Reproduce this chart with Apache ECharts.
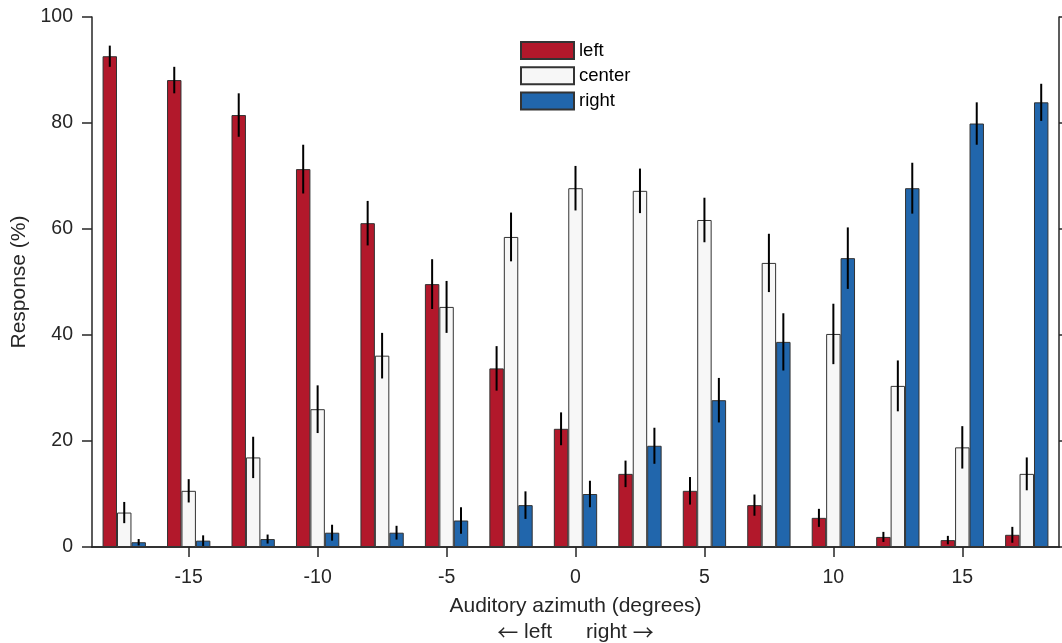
<!DOCTYPE html>
<html><head><meta charset="utf-8">
<script src="https://cdn.jsdelivr.net/npm/echarts@6/dist/echarts.min.js"></script>
<style>html,body{margin:0;padding:0;background:#fff}#c{width:1062px;height:643px}</style>
</head><body><div id="c"></div>
<script>
const categories = ['-17.5','-15','-12.5','-10','-7.5','-5','-2.5','0','2.5','5','7.5','10','12.5','15','17.5'];
const leftVals = [92.6, 88.1, 81.5, 71.3, 61.1, 49.6, 33.7, 22.3, 13.8, 10.6, 7.9, 5.5, 1.9, 1.3, 2.3];
const leftErr = [2.0, 2.5, 4.1, 4.6, 4.2, 4.7, 4.2, 3.1, 2.5, 2.6, 2.0, 1.7, 0.95, 0.8, 1.5];
const centerVals = [6.5, 10.6, 16.9, 26.0, 36.1, 45.3, 58.5, 67.7, 67.2, 61.7, 53.6, 40.2, 30.4, 18.8, 13.8];
const centerErr = [2.0, 2.2, 3.9, 4.5, 4.3, 4.9, 4.6, 4.2, 4.2, 4.2, 5.5, 5.7, 4.8, 4.0, 3.1];
const rightVals = [0.9, 1.2, 1.5, 2.7, 2.7, 5.0, 7.9, 10.0, 19.1, 27.7, 38.7, 54.5, 67.7, 79.9, 83.9];
const rightErr = [0.6, 1.0, 0.85, 1.5, 1.3, 2.5, 2.6, 2.5, 3.4, 4.2, 5.4, 5.8, 4.8, 4.0, 3.5];
const seriesNames = ['left', 'center', 'right'];

const colors = ['#b2182b', '#f7f7f7', '#2166ac'];
const BAR_FRAC = 0.224;
const FONT = 'Liberation Sans, Arial, Helvetica, sans-serif';
const AX = '#262626';

const chart = echarts.init(document.getElementById('c'));
const vals = [leftVals, centerVals, rightVals];
const errs = [leftErr, centerErr, rightErr];

function errSeries(k) {
  return {
    type: 'custom', silent: true, z: 10,
    data: categories.map((c, i) => [i, vals[k][i] - errs[k][i], vals[k][i] + errs[k][i]]),
    renderItem: function (params, api) {
      const band = api.size([1, 0])[0];
      const off = (k - 1) * band * BAR_FRAC;
      const lo = api.coord([api.value(0), Math.max(0, api.value(1))]);
      const hi = api.coord([api.value(0), api.value(2)]);
      return { type: 'line', shape: { x1: lo[0] + off, y1: lo[1], x2: hi[0] + off, y2: hi[1] },
        style: { stroke: '#000', lineWidth: 2 } };
    }
  };
}

const barSeries = seriesNames.map((n, k) => ({
  name: n, type: 'bar', data: vals[k], barWidth: (BAR_FRAC * 100) + '%', barGap: '0%',
  itemStyle: { color: colors[k], borderColor: '#333', borderWidth: 1 }
}));

const tickInt = (i) => i % 2 === 1;

chart.setOption({
  animation: false,
  textStyle: { fontFamily: FONT },
  grid: { left: 92, right: 3, top: 17, bottom: 96, outerBoundsMode: 'none', containLabel: false },
  legend: {
    data: seriesNames, orient: 'vertical', left: 520, top: 41, padding: 0,
    itemWidth: 53, itemHeight: 17, itemGap: 6.3,
    textStyle: { fontFamily: FONT, fontSize: 18.5, color: '#000', lineHeight: 17 },
    icon: 'rect'
  },
  xAxis: [{
    type: 'category', data: categories, position: 'bottom',
    axisLine: { lineStyle: { color: AX, width: 1.5 } },
    axisTick: { show: true, alignWithLabel: true, interval: (i) => tickInt(i), length: 10, inside: false, lineStyle: { color: AX, width: 1.5 } },
    axisLabel: { interval: (i) => tickInt(i), margin: 21, fontSize: 19.5, color: AX, fontFamily: FONT },
    name: 'Auditory azimuth (degrees)\n{a|←} left{g| }right {a|→}',
    nameLocation: 'middle', nameGap: 40,
    nameTextStyle: { fontSize: 21, color: AX, fontFamily: FONT, lineHeight: 26, verticalAlign: 'top',
      rich: {
        a: { fontFamily: 'Noto Sans CJK SC', fontSize: 21, color: AX, lineHeight: 26 },
        g: { width: 34, fontSize: 21, lineHeight: 26 }
      }
    }
  }, {
    type: 'category', data: categories, position: 'top',
    axisLine: { lineStyle: { color: AX, width: 1.5 } },
    axisTick: { show: true, alignWithLabel: true, interval: (i) => tickInt(i), length: 10, lineStyle: { color: AX, width: 1.5 } },
    axisLabel: { show: false }
  }],
  yAxis: [{
    type: 'value', min: 0, max: 100, interval: 20, position: 'left',
    axisLine: { show: true, lineStyle: { color: AX, width: 1.5 } },
    axisTick: { show: true, length: 10, lineStyle: { color: AX, width: 1.5 } },
    axisLabel: { margin: 19, fontSize: 19.5, color: AX, fontFamily: FONT },
    splitLine: { show: false },
    name: 'Response (%)', nameLocation: 'middle', nameGap: 61,
    nameTextStyle: { fontSize: 21, color: AX, fontFamily: FONT }
  }, {
    type: 'value', min: 0, max: 100, interval: 20, position: 'right',
    axisLine: { show: true, lineStyle: { color: AX, width: 1.5 } },
    axisTick: { show: true, length: 10, lineStyle: { color: AX, width: 1.5 } },
    axisLabel: { show: false }, splitLine: { show: false }
  }],
  series: barSeries.concat([errSeries(0), errSeries(1), errSeries(2)])
});
</script></body></html>
